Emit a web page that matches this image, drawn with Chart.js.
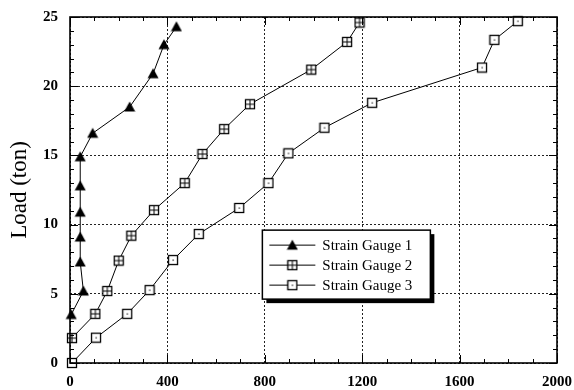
<!DOCTYPE html>
<html lang="en">
<head>
    <meta charset="UTF-8">
    <title>Load vs Strain</title>
    <script src="https://cdn.jsdelivr.net/npm/chart.js"></script>
    <style>
        html, body { margin: 0; padding: 0; background: #fff; }
        .chart-container { width: 574px; height: 390px; }
    </style>
</head>
<body>
    <div class="chart-container">
        <canvas id="loadChart"></canvas>
    </div>

    <script>
        // Values
        const seriesNames = ['Strain Gauge 1', 'Strain Gauge 2', 'Strain Gauge 3'];

        const gauge1Strain = [5, 55, 42, 42, 42, 42, 42, 93, 245, 341, 386, 437];
        const gauge1Load   = [3.5, 5.2, 7.3, 9.1, 10.9, 12.8, 14.9, 16.6, 18.5, 20.9, 23.0, 24.3];

        const gauge2Strain = [8, 104, 153, 200, 252, 345, 471, 544, 633, 739, 991, 1138, 1189];
        const gauge2Load   = [1.8, 3.55, 5.2, 7.4, 9.2, 11.05, 13.0, 15.1, 16.9, 18.7, 21.2, 23.2, 24.6];

        const gauge3Strain = [8, 107, 235, 327, 423, 529, 695, 815, 897, 1045, 1241, 1692, 1743, 1839];
        const gauge3Load   = [0, 1.83, 3.55, 5.27, 7.44, 9.32, 11.2, 13.0, 15.15, 17.0, 18.8, 21.35, 23.35, 24.7];

        const xTicks = [0, 400, 800, 1200, 1600, 2000];
        const yTicks = [0, 5, 10, 15, 20, 25];

        const serif = "'Liberation Serif', 'Times New Roman', serif";

        // marker images
        function makeMarker(kind) {
            const c = document.createElement('canvas');
            c.width = 12; c.height = 12;
            const g = c.getContext('2d');
            g.strokeStyle = '#000';
            g.fillStyle = '#000';
            g.lineWidth = 1.3;
            if (kind === 'triangle') {
                g.beginPath();
                g.moveTo(6, 0.5);
                g.lineTo(11.5, 10.5);
                g.lineTo(0.5, 10.5);
                g.closePath();
                g.fill();
            } else {
                g.fillStyle = '#fff';
                g.fillRect(1.5, 1.5, 9, 9);
                g.strokeRect(1.5, 1.5, 9, 9);
                g.fillStyle = '#000';
                if (kind === 'cross') {
                    g.lineWidth = 1;
                    g.beginPath();
                    g.moveTo(6, 1.5); g.lineTo(6, 10.5);
                    g.moveTo(1.5, 6); g.lineTo(10.5, 6);
                    g.stroke();
                } else {
                    g.fillRect(5.5, 5.5, 1.2, 1.2);
                }
            }
            return c;
        }

        const markers = [makeMarker('triangle'), makeMarker('cross'), makeMarker('dot')];

        function toPoints(xs, ys) {
            return xs.map((v, i) => ({ x: v, y: ys[i] }));
        }

        const allX = [gauge1Strain, gauge2Strain, gauge3Strain];
        const allY = [gauge1Load, gauge2Load, gauge3Load];

        const datasets = seriesNames.map((name, i) => ({
            label: name,
            data: toPoints(allX[i], allY[i]),
            showLine: true,
            borderColor: '#000',
            borderWidth: 1,
            pointStyle: markers[i],
            pointRadius: 5,
            tension: 0,
            clip: false
        }));

        // frame and inward tick marks
        const framePlugin = {
            id: 'framePlugin',
            afterDatasetsDraw(chart) {
                const { ctx, chartArea: a, scales: { x, y } } = chart;
                ctx.save();
                ctx.strokeStyle = '#000';
                ctx.lineWidth = 1;
                ctx.beginPath();
                for (let v = 0; v <= 2000; v += 100) {
                    const px = Math.round(x.getPixelForValue(v)) + 0.5;
                    const len = v % 400 === 0 ? 8 : 4;
                    ctx.moveTo(px, a.bottom); ctx.lineTo(px, a.bottom - len);
                    ctx.moveTo(px, a.top); ctx.lineTo(px, a.top + len);
                }
                for (let v = 0; v <= 25; v += 1) {
                    const py = Math.round(y.getPixelForValue(v)) + 0.5;
                    const len = v % 5 === 0 ? 8 : 4;
                    ctx.moveTo(a.left, py); ctx.lineTo(a.left + len, py);
                    ctx.moveTo(a.right, py); ctx.lineTo(a.right - len, py);
                }
                ctx.stroke();
                ctx.lineWidth = 1.6;
                ctx.strokeRect(a.left, a.top, a.right - a.left, a.bottom - a.top);
                ctx.restore();
            }
        };

        // boxed legend inside the plot
        const boxLegend = {
            id: 'boxLegend',
            afterDraw(chart) {
                const { ctx, scales: { x, y } } = chart;
                const left = x.getPixelForValue(790);
                const top = y.getPixelForValue(9.6);
                const w = 168, h = 69;
                ctx.save();
                ctx.fillStyle = '#000';
                ctx.fillRect(left + 4, top + 4, w, h);
                ctx.fillStyle = '#fff';
                ctx.fillRect(left, top, w, h);
                ctx.strokeStyle = '#000';
                ctx.lineWidth = 1.5;
                ctx.strokeRect(left, top, w, h);
                ctx.font = '15px ' + serif;
                ctx.textBaseline = 'middle';
                seriesNames.forEach((name, i) => {
                    const ry = top + 15 + i * 20;
                    ctx.lineWidth = 1;
                    ctx.beginPath();
                    ctx.moveTo(left + 7, ry);
                    ctx.lineTo(left + 53, ry);
                    ctx.stroke();
                    ctx.drawImage(markers[i], left + 24, ry - 6);
                    ctx.fillStyle = '#000';
                    ctx.fillText(name, left + 60, ry + 1);
                });
                ctx.restore();
            }
        };

        const ctxLoad = document.getElementById('loadChart').getContext('2d');
        const loadChart = new Chart(ctxLoad, {
            type: 'scatter',
            data: { datasets: datasets },
            plugins: [framePlugin, boxLegend],
            options: {
                responsive: true,
                maintainAspectRatio: false,
                animation: false,
                layout: {
                    padding: 0
                },
                plugins: {
                    legend: { display: false },
                    tooltip: { enabled: false }
                },
                scales: {
                    x: {
                        type: 'linear',
                        min: 0,
                        max: 2000,
                        afterBuildTicks: scale => { scale.ticks = xTicks.map(v => ({ value: v })); },
                        afterFit: scale => {
                            scale.height = 27;
                            scale.paddingLeft = 0;
                            scale.paddingRight = 17;
                        },
                        grid: { color: '#222', lineWidth: 1, drawTicks: false },
                        border: { display: false, dash: [2, 2] },
                        ticks: {
                            color: '#000',
                            padding: 10,
                            maxRotation: 0,
                            callback: v => String(v),
                            font: { family: serif, size: 15, weight: 'bold' }
                        }
                    },
                    y: {
                        type: 'linear',
                        min: 0,
                        max: 25,
                        afterBuildTicks: scale => { scale.ticks = yTicks.map(v => ({ value: v })); },
                        afterFit: scale => {
                            scale.width = 70;
                            scale.paddingTop = 17;
                            scale.paddingBottom = 0;
                        },
                        grid: { color: '#222', lineWidth: 1, drawTicks: false },
                        border: { display: false, dash: [2, 2] },
                        title: {
                            display: true,
                            text: 'Load (ton)',
                            color: '#000',
                            padding: { top: 6, bottom: 0 },
                            font: { family: serif, size: 23 }
                        },
                        ticks: {
                            color: '#000',
                            padding: 12,
                            callback: v => String(v),
                            font: { family: serif, size: 15, weight: 'bold' }
                        }
                    }
                }
            }
        });
    </script>
</body>
</html>
